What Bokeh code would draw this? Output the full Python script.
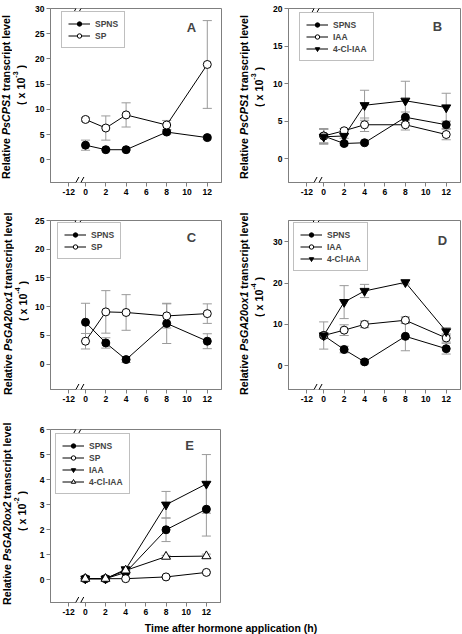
import math
from bokeh.plotting import figure
from bokeh.models import Label, Legend, LegendItem, FixedTicker, Arrow, Div
from bokeh.layouts import column, row
from bokeh.embed import file_html
from bokeh.resources import INLINE

# ---------------- data ----------------
hours = [0, 2, 4, 8, 12]
x_tick_values = [-12, 0, 2, 4, 6, 8, 10, 12]

# Panel A  PsCPS1 (x 10^-3)
a_spns = [2.9, 2.0, 2.0, 5.5, 4.4]
a_spns_err = [1.0, 0.2, 0.2, 0.4, 0.3]
a_sp = [8.0, 6.3, 8.9, 6.9, 18.9]
a_sp_err = [0.4, 2.4, 2.4, 0.9, 8.7]
a_yticks = [0, 5, 10, 15, 20, 25, 30]

# Panel B  PsCPS1 (x 10^-3)
b_spns = [3.0, 2.0, 2.1, 5.5, 4.5]
b_spns_err = [1.0, 0.2, 0.2, 0.7, 0.5]
b_iaa = [3.0, 3.7, 4.5, 4.5, 3.2]
b_iaa_err = [0.9, 0.3, 0.9, 0.7, 0.7]
b_cl = [2.9, 3.0, 7.1, 7.7, 6.8]
b_cl_err = [1.0, 0.3, 2.0, 2.6, 1.9]
b_yticks = [0, 5, 10, 15, 20]

# Panel C  PsGA20ox1 (x 10^-4)
c_spns = [7.3, 3.7, 0.8, 7.1, 4.0]
c_spns_err = [3.3, 0.9, 0.5, 3.5, 1.3]
c_sp = [4.0, 9.1, 9.0, 8.4, 8.8]
c_sp_err = [1.35, 3.7, 3.1, 2.1, 1.7]
c_yticks = [0, 5, 10, 15, 20, 25]

# Panel D  PsGA20ox1 (x 10^-4)
d_spns = [7.3, 3.9, 0.9, 7.1, 4.1]
d_spns_err = [3.3, 0.8, 0.5, 3.5, 1.3]
d_iaa = [7.3, 8.6, 10.0, 11.0, 6.7]
d_iaa_err = [0.5, 1.3, 0.8, 0.8, 1.0]
d_cl = [7.3, 15.4, 18.1, 20.2, 8.3]
d_cl_err = [0.5, 4.0, 1.6, 0.4, 0.9]
d_yticks = [0, 10, 20, 30]

# Panel E  PsGA20ox2 (x 10^-2)
e_spns = [0.05, 0.05, 0.3, 2.0, 2.82]
e_spns_err = [0.02, 0.02, 0.05, 0.47, 1.07]
e_sp = [0.05, 0.05, 0.05, 0.12, 0.3]
e_sp_err = [0.01, 0.01, 0.01, 0.02, 0.03]
e_iaa = [0.05, 0.05, 0.42, 3.0, 3.83]
e_iaa_err = [0.02, 0.02, 0.05, 0.53, 1.17]
e_cl = [0.05, 0.05, 0.38, 0.93, 0.95]
e_cl_err = [0.02, 0.02, 0.05, 0.05, 0.08]
e_yticks = [0, 1, 2, 3, 4, 5, 6]

x_title = "Time after hormone application (h)"

# ---------------- style ----------------
FONT = "Liberation Sans"
GRAY = "#7f7f7f"
ERRC = "#9a9a9a"
X_MIN, X_MAX = -3.45, 13.4
BREAK_TICK = -1.65
BREAK_MARK = -0.7
CAP = 0.45

FILLED_CIRCLE = dict(marker="circle", fill_color="black", size=8)
OPEN_CIRCLE = dict(marker="circle", fill_color="white", size=8)
FILLED_DOWN = dict(marker="inverted_triangle", fill_color="black", size=9)
OPEN_UP = dict(marker="triangle", fill_color="white", size=9)

TXT_CSS = ("position:absolute; writing-mode:vertical-rl; transform:rotate(180deg); "
           "text-align:center; white-space:nowrap; "
           "font-family:'Liberation Sans', Arial, sans-serif; font-weight:bold; "
           "font-size:10.7px; line-height:12px; color:black;")


def ylabel_div(width, height, gene, exp, x1, y1, x2, y2):
    line1 = ('<div style="%s left:%dpx; top:%dpx; width:12px; height:180px;">'
             'Relative <i>%s</i> transcript level</div>' % (TXT_CSS, x1 - 6, y1 - 90, gene))
    line2 = ('<div style="%s left:%dpx; top:%dpx; width:12px; height:60px;">'
             '( x 10<sup style="font-size:7px">%s</sup> )</div>' % (TXT_CSS, x2 - 6, y2 - 30, exp))
    html = ('<div style="position:relative; width:%dpx; height:%dpx;">%s%s</div>'
            % (width, height, line1, line2))
    return Div(text=html, width=width, height=height, margin=0)


def make_panel(width, height, bl, br, bt, bb, yr, yticks, series, letter,
               letter_pos, legend_pos):
    fw = width - bl - br
    fh = height - bt - bb
    p = figure(width=width, height=height, x_range=(X_MIN, X_MAX), y_range=yr,
               output_backend="svg", toolbar_location=None, title=None,
               min_border_left=bl, min_border_right=br, min_border_top=bt,
               min_border_bottom=bb, margin=0)
    p.xgrid.visible = False
    p.ygrid.visible = False
    p.outline_line_color = GRAY
    p.outline_line_width = 1
    p.background_fill_color = "white"
    p.border_fill_color = "white"

    xt = [BREAK_TICK if t == -12 else t for t in x_tick_values]
    p.xaxis.ticker = FixedTicker(ticks=xt)
    p.xaxis.major_label_overrides = {pos: str(t) for pos, t in zip(xt, x_tick_values)}
    p.yaxis.ticker = FixedTicker(ticks=yticks)
    for ax in p.axis:
        ax.axis_line_color = GRAY
        ax.major_tick_line_color = GRAY
        ax.major_tick_out = 4
        ax.major_tick_in = 0
        ax.minor_tick_line_color = None
        ax.major_label_text_font = FONT
        ax.major_label_text_font_style = "bold"
        ax.major_label_text_font_size = "8.5px"
        ax.major_label_text_color = "black"
        ax.major_label_standoff = 2

    # error bars
    for name, vals, errs, st in series:
        lo = [v - e for v, e in zip(vals, errs)]
        hi = [v + e for v, e in zip(vals, errs)]
        p.segment(hours, lo, hours, hi, line_color=ERRC, line_width=1)
        p.segment([h - CAP for h in hours], hi, [h + CAP for h in hours], hi,
                  line_color=ERRC, line_width=1)
        p.segment([h - CAP for h in hours], lo, [h + CAP for h in hours], lo,
                  line_color=ERRC, line_width=1)
    lines = []
    for name, vals, errs, st in series:
        lines.append(p.line(hours, vals, line_color="black", line_width=1))
    items = []
    for (name, vals, errs, st), lr in zip(series, lines):
        sr = p.scatter(hours, vals, marker=st["marker"], size=st["size"],
                       fill_color=st["fill_color"], line_color="black", line_width=1)
        items.append(LegendItem(label=name, renderers=[lr, sr]))

    n = len(items)
    lh = 2 * 6 + n * 11 + (n - 1) * 1
    legend = Legend(items=items, location=(legend_pos[0], fh - legend_pos[1] - lh),
                    border_line_color=GRAY, border_line_width=1,
                    background_fill_color="white", background_fill_alpha=1,
                    label_text_font=FONT, label_text_font_style="bold",
                    label_text_font_size="8.5px", glyph_width=22, glyph_height=11,
                    label_height=11, spacing=1, padding=6, margin=0, label_standoff=5)
    p.add_layout(legend)

    # panel letter
    p.add_layout(Label(x=fw - letter_pos[0], y=fh - letter_pos[1], x_units="screen",
                       y_units="screen", text=letter, text_font=FONT,
                       text_font_style="bold", text_font_size="13px",
                       text_align="center", text_baseline="middle"))

    # axis break marks
    xb = (BREAK_MARK - X_MIN) / (X_MAX - X_MIN) * fw
    for yb in (0, fh):
        p.add_layout(Arrow(end=None, x_start=xb - 2.5, y_start=yb, x_end=xb + 2.5,
                           y_end=yb, start_units="screen", end_units="screen",
                           line_color="white", line_width=3, level="overlay"))
        for dx in (-2.5, 2.5):
            p.add_layout(Arrow(end=None, x_start=xb + dx - 3, y_start=yb - 5.5,
                               x_end=xb + dx + 3, y_end=yb + 5.5, start_units="screen",
                               end_units="screen", line_color="black", line_width=1,
                               level="overlay"))
    return p


pa = make_panel(201, 205, 20, 10, 8, 23, (-4.5, 30), a_yticks,
                [("SPNS", a_spns, a_spns_err, FILLED_CIRCLE),
                 ("SP", a_sp, a_sp_err, OPEN_CIRCLE)], "A", (30, 19), (11, 5))
pb = make_panel(194, 205, 20, 2, 8, 23, (-3.2, 20), b_yticks,
                [("SPNS", b_spns, b_spns_err, FILLED_CIRCLE),
                 ("IAA", b_iaa, b_iaa_err, OPEN_CIRCLE),
                 ("4-Cl-IAA", b_cl, b_cl_err, FILLED_DOWN)], "B", (23, 18), (11, 6))
pc = make_panel(201, 210, 20, 10, 15, 26, (-4.4, 25), c_yticks,
                [("SPNS", c_spns, c_spns_err, FILLED_CIRCLE),
                 ("SP", c_sp, c_sp_err, OPEN_CIRCLE)], "C", (30, 17), (7, 4))
pd = make_panel(194, 210, 20, 2, 15, 26, (-5.8, 35.2), d_yticks,
                [("SPNS", d_spns, d_spns_err, FILLED_CIRCLE),
                 ("IAA", d_iaa, d_iaa_err, OPEN_CIRCLE),
                 ("4-Cl-IAA", d_cl, d_cl_err, FILLED_DOWN)], "D", (18, 20), (5, 4))
pe = make_panel(201, 205, 20, 11, 14, 18, (-0.9, 6), e_yticks,
                [("SPNS", e_spns, e_spns_err, FILLED_CIRCLE),
                 ("SP", e_sp, e_sp_err, OPEN_CIRCLE),
                 ("IAA", e_iaa, e_iaa_err, FILLED_DOWN),
                 ("4-Cl-IAA", e_cl, e_cl_err, OPEN_UP)], "E", (31, 16), (5, 6))

la = ylabel_div(30, 205, "PsCPS1", "-3", 6, 97, 16, 85)
lb = ylabel_div(37, 205, "PsCPS1", "-3", 13, 97, 23, 87)
lc = ylabel_div(30, 210, "PsGA20ox1", "-4", 8, 100, 18, 96)
ld = ylabel_div(37, 210, "PsGA20ox1", "-4", 13, 100, 23, 92)
le = ylabel_div(30, 205, "PsGA20ox2", "-2", 7, 100, 17, 96)

title_div = Div(text=('<div style="width:462px; text-align:center; white-space:nowrap; '
                      'font-family:\'Liberation Sans\', Arial, sans-serif; font-weight:bold; '
                      'font-size:10.5px; line-height:13px; color:black;">%s</div>' % x_title),
                width=462, height=13, margin=0)

layout = column(row(la, pa, lb, pb), row(lc, pc, ld, pd), row(le, pe), title_div)
open("out.html", "w").write(file_html(layout, INLINE))
